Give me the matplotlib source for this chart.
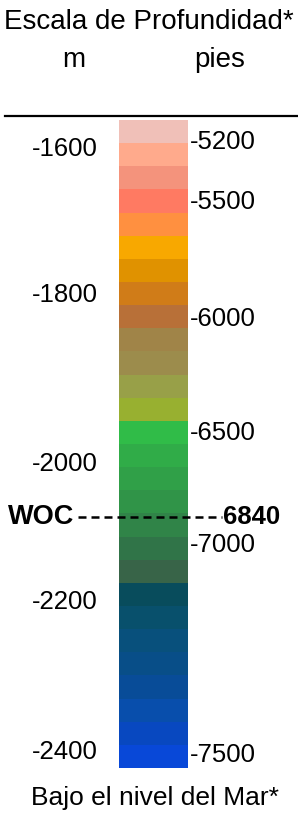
import matplotlib
matplotlib.use("Agg")
import matplotlib.pyplot as plt
from matplotlib.transforms import blended_transform_factory
from matplotlib.lines import Line2D

# band colours, top (shallow) to bottom (deep)
band_colors = [
    "#F0C0B8", "#FFAA8C", "#F4937C", "#FF7A62", "#FF9040", "#F8A800", "#E09200",
    "#D07C18", "#B87038", "#A08448", "#9C8C4C", "#98A048", "#98B030", "#30BC48",
    "#30AC48", "#30A048", "#309448", "#308448", "#307448", "#386448", "#084C5C",
    "#08506C", "#08507C", "#084E88", "#084C98", "#084EAC", "#0848C0", "#0848D8",
]

# depth labels in metres (left) and feet (right), placed in band units
m_labels = ["-1600", "-1800", "-2000", "-2200", "-2400"]
m_pos = [1.25, 7.56, 14.87, 20.83, 27.31]
ft_labels = ["-5200", "-5500", "-6000", "-6500", "-7000", "-7500"]
ft_pos = [0.95, 3.54, 8.60, 13.53, 18.37, 27.44]

# water-oil contact
woc_label = "WOC"
woc_ft = "6840"
woc_pos = 17.16

plt.rcParams["font.family"] = ["Liberation Sans", "DejaVu Sans"]

fig = plt.figure(figsize=(2.98, 8.19), dpi=100)
ax = fig.add_axes([119 / 298, 1 - 768 / 819, 69 / 298, 648 / 819])

n = len(band_colors)
ax.bar([0.5] * n, [1] * n, width=1.0, bottom=list(range(n)),
       color=band_colors, edgecolor="none", align="center")
ax.set_xlim(0, 1)
ax.set_ylim(n, 0)
ax.axis("off")

tr = blended_transform_factory(ax.transAxes, ax.transData)

for lab, y in zip(m_labels, m_pos):
    ax.text(-0.31, y, lab, transform=tr, ha="right", va="center",
            fontsize=18.5, color="black")

for lab, y in zip(ft_labels, ft_pos):
    ax.text(1.02, y, lab, transform=tr, ha="left", va="center",
            fontsize=18.5, color="black")

# WOC dashed line
ax.plot([-0.59, 1.49], [woc_pos, woc_pos], transform=tr, color="black",
        lw=1.8, linestyle=(0, (3.2, 2.0)), clip_on=False, zorder=5)
ax.text(-0.65, woc_pos, woc_label, transform=tr, ha="right", va="center",
        fontsize=19.5, fontweight="bold", color="black")
ax.text(1.51, woc_pos, woc_ft, transform=tr, ha="left", va="center",
        fontsize=18.5, fontweight="bold", color="black")

# header
fig.text(0.5, 1 - 22 / 819, "Escala de Profundidad*", ha="center", va="center",
         fontsize=20)
fig.text(74 / 298, 1 - 60 / 819, "m", ha="center", va="center", fontsize=20)
fig.text(220 / 298, 1 - 60 / 819, "pies", ha="center", va="center", fontsize=20)
fig.add_artist(Line2D([5 / 298, 1.0], [1 - 116 / 819, 1 - 116 / 819],
                      transform=fig.transFigure, color="black", lw=1.6))

# footer
fig.text(155 / 298, 1 - 798 / 819, "Bajo el nivel del Mar*", ha="center",
         va="center", fontsize=19)

fig.savefig("out.png", dpi=100)
